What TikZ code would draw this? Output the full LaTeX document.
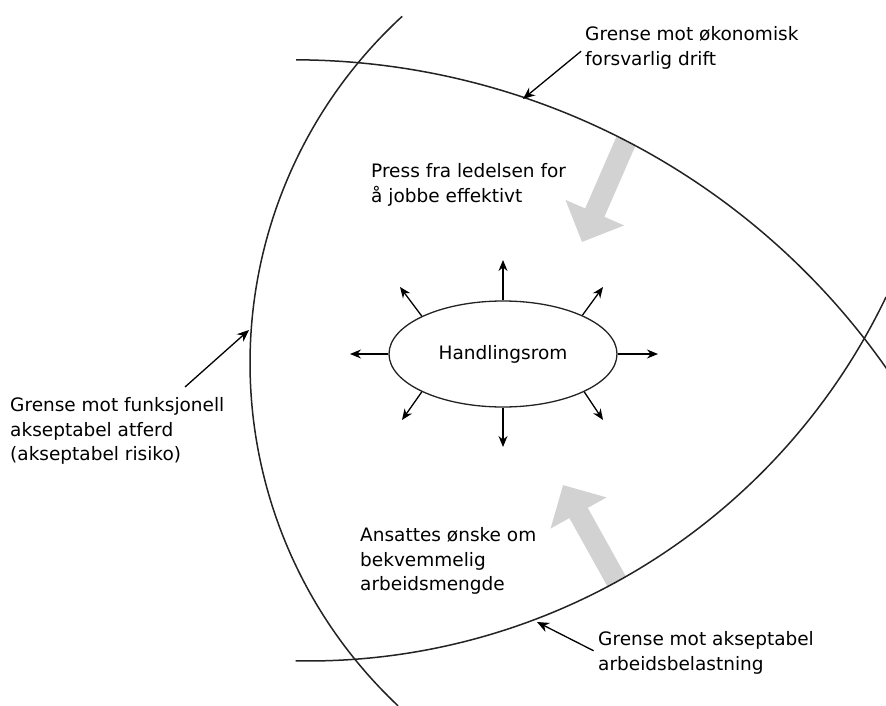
\documentclass[tikz,border=0pt]{standalone}
\usepackage{fontspec}
\setmainfont{DejaVu Sans}
\usetikzlibrary{arrows.meta,shapes.geometric}
\definecolor{linegrey}{RGB}{35,35,35}
\definecolor{pushgrey}{RGB}{210,210,210}
\begin{document}
\begin{tikzpicture}[x=1pt,y=-1pt,
  boundary/.style={draw=linegrey,line width=1.5pt},
  txt/.style={anchor=west,inner sep=0pt,align=left,font=\fontsize{18.5}{24.5}\selectfont},
  pointer/.style={draw=black,line width=1.3pt,-{Stealth[length=12pt,width=10pt]}},
  ray/.style={draw=black,line width=1.3pt,-{Stealth[length=11pt,width=9pt]}},
  push/.style={draw=pushgrey,line width=21pt,-{Triangle[width=62pt,length=32pt]}}
]
\fill[white] (0,0) rectangle (886,706);
\useasboundingbox (0,0) rectangle (886,706);

% grey pressure arrows
\coordinate (ps) at (626,141);
\coordinate (pe) at (582,242);
\coordinate (ws) at (617,582);
\coordinate (we) at (563,485);
\draw[push] (ps) -- (pe);
\draw[push] (ws) -- (we);

% three boundaries
\draw[boundary] (721,363) ++(227.4:471) arc[start angle=227.4,end angle=133.3,radius=471];
\draw[boundary] (293.5,783.8) ++(-89.8:724) arc[start angle=-89.8,end angle=-34.4,radius=724];
\draw[boundary] (308,20) ++(91.1:641) arc[start angle=91.1,end angle=25.6,radius=641];

% centre
\node[draw=linegrey,line width=1.3pt,ellipse,minimum width=228pt,minimum height=106pt,
      inner sep=0pt,font=\fontsize{18.5}{24.5}\selectfont] (hr) at (503,354) {Handlingsrom};

\coordinate (rn) at (503,260);
\coordinate (rs) at (503,447);
\coordinate (rw) at (350,354);
\coordinate (re) at (658,354);
\coordinate (rnw) at (400,287);
\coordinate (rne) at (603,287);
\coordinate (rsw) at (402,420);
\coordinate (rse) at (603,420);
\draw[ray] (hr.north) -- (rn);
\draw[ray] (hr.south) -- (rs);
\draw[ray] (hr.west) -- (rw);
\draw[ray] (hr.east) -- (re);
\draw[ray] (hr.155) -- (rnw);
\draw[ray] (hr.26) -- (rne);
\draw[ray] (hr.205) -- (rsw);
\draw[ray] (hr.335) -- (rse);

% texts
\node[txt] (t1) at (585,48) {Grense mot økonomisk\\forsvarlig drift};
\node[txt] (t2) at (371,185) {Press fra ledelsen for\\å jobbe effektivt};
\node[txt] (t3) at (10,431) {Grense mot funksjonell\\akseptabel atferd\\(akseptabel risiko)};
\node[txt] (t4) at (360,561) {Ansattes ønske om\\bekvemmelig\\arbeidsmengde};
\node[txt] (t5) at (598,653) {Grense mot akseptabel\\arbeidsbelastning};

% pointers to the boundaries
\coordinate (b1) at (523,99);
\coordinate (a3) at (185,387);
\coordinate (b3) at (249,330);
\coordinate (b5) at (537,622);
\draw[pointer,shorten <=5pt] (t1.west) -- (b1);
\draw[pointer] (a3) -- (b3);
\draw[pointer,shorten <=5pt] (t5.west) -- (b5);
\end{tikzpicture}
\end{document}
